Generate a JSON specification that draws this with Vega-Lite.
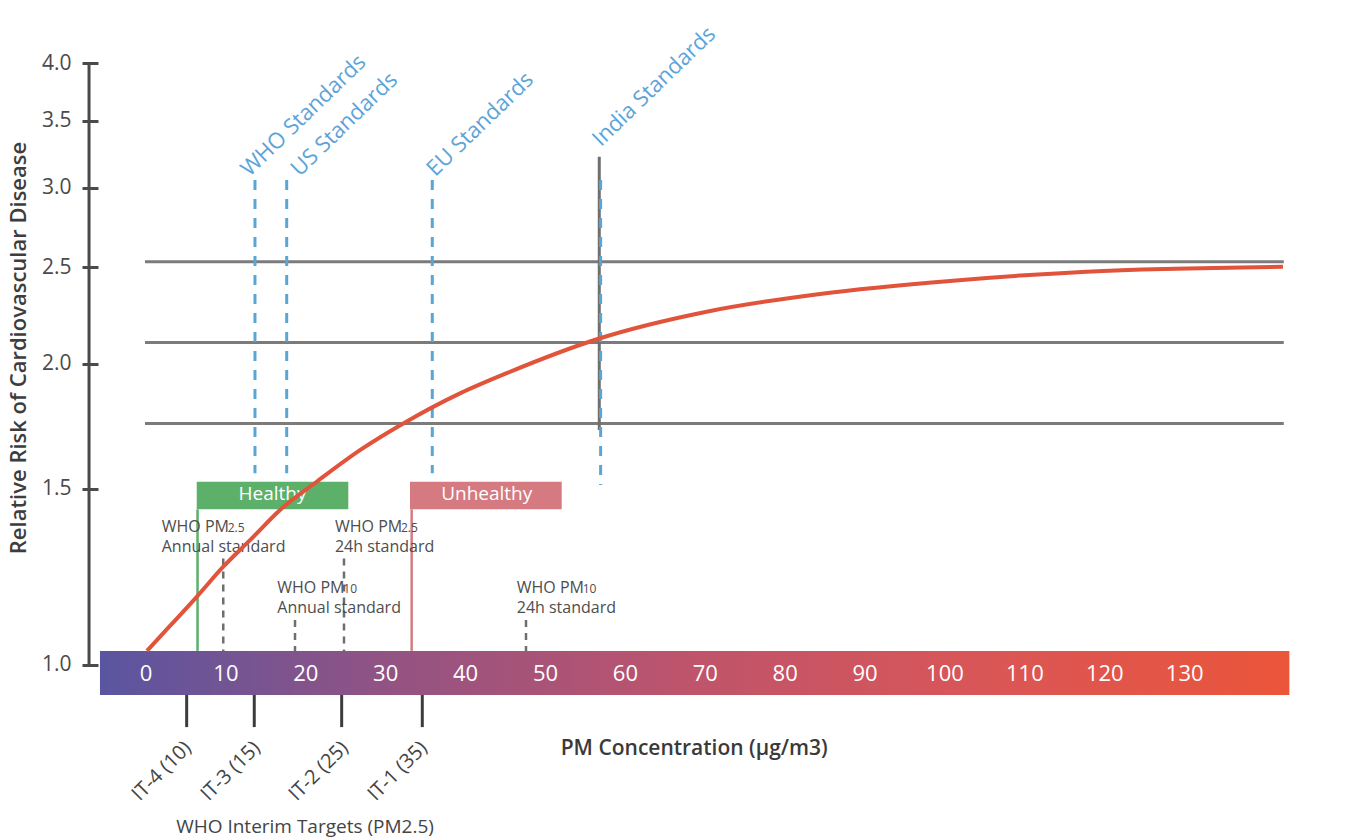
{
  "$schema": "https://vega.github.io/schema/vega-lite/v6.json",
  "width": 1210,
  "height": 632,
  "autosize": {"type": "none"},
  "padding": {"left": 80, "top": 63, "right": 64, "bottom": 144},
  "background": "white",
  "config": {"view": {"stroke": null}, "font": "Open Sans", "text": {"font": "Open Sans"}},
  "datasets": {
    "bar": [{"x": -5.76, "x2": 143.1, "y": 0.9332, "y2": 1.033}],
    "nums": [
      {"label": "0", "x": 0, "y": 0.979}, {"label": "10", "x": 10, "y": 0.979}, {"label": "20", "x": 20, "y": 0.979},
      {"label": "30", "x": 30, "y": 0.979}, {"label": "40", "x": 40, "y": 0.979}, {"label": "50", "x": 50, "y": 0.979},
      {"label": "60", "x": 60, "y": 0.979}, {"label": "70", "x": 70, "y": 0.979}, {"label": "80", "x": 80, "y": 0.979},
      {"label": "90", "x": 90, "y": 0.979}, {"label": "100", "x": 100, "y": 0.979}, {"label": "110", "x": 110, "y": 0.979},
      {"label": "120", "x": 120, "y": 0.979}, {"label": "130", "x": 130, "y": 0.979}
    ],
    "hlines": [
      {"x": -0.125, "x2": 142.4, "y": 2.531},
      {"x": -0.125, "x2": 142.4, "y": 2.102},
      {"x": -0.125, "x2": 142.4, "y": 1.744}
    ],
    "india": [{"x": 56.73, "y": 3.224, "y2": 1.718}],
    "stdlines": [
      {"x": 13.64, "y": 3.055, "y2": 1.555},
      {"x": 17.61, "y": 3.055, "y2": 1.555},
      {"x": 35.83, "y": 3.055, "y2": 1.555},
      {"x": 56.9, "y": 3.055, "y2": 1.514}
    ],
    "stdlabels": [
      {"label": "WHO Standards", "x": 12.95, "y": 3.074},
      {"label": "US Standards", "x": 19.2, "y": 3.074},
      {"label": "EU Standards", "x": 36.2, "y": 3.074},
      {"label": "India Standards", "x": 56.95, "y": 3.294}
    ],
    "zones": [
      {"label": "Healthy", "x": 6.35, "x2": 25.32, "y": 1.525, "y2": 1.431, "tx": 15.83, "ty": 1.483, "lx": 6.45, "ly": 1.431, "ly2": 1.033},
      {"label": "Unhealthy", "x": 33.04, "x2": 52.03, "y": 1.525, "y2": 1.431, "tx": 42.64, "ty": 1.483, "lx": 33.25, "ly": 1.431, "ly2": 1.033}
    ],
    "whodash": [
      {"x": 9.67, "y": 1.278, "y2": 1.033},
      {"x": 18.65, "y": 1.109, "y2": 1.033},
      {"x": 24.78, "y": 1.278, "y2": 1.033},
      {"x": 47.56, "y": 1.109, "y2": 1.033}
    ],
    "annot": [
      {"label": "WHO PM", "sub": "2.5", "x": 1.97, "y": 1.359},
      {"label": "Annual standard", "x": 1.97, "y": 1.298},
      {"label": "WHO PM", "sub": "2.5", "x": 23.65, "y": 1.359},
      {"label": "24h standard", "x": 23.65, "y": 1.298},
      {"label": "WHO PM", "sub": "10", "x": 16.43, "y": 1.179},
      {"label": "Annual standard", "x": 16.43, "y": 1.126},
      {"label": "WHO PM", "sub": "10", "x": 46.4, "y": 1.179},
      {"label": "24h standard", "x": 46.4, "y": 1.126}
    ],
    "curve": [
      {"x": 0.125, "y": 1.033}, {"x": 3.0, "y": 1.094}, {"x": 6.35, "y": 1.17}, {"x": 9.67, "y": 1.254},
      {"x": 13.02, "y": 1.333}, {"x": 16.98, "y": 1.434}, {"x": 21.36, "y": 1.525}, {"x": 26.78, "y": 1.64},
      {"x": 32.2, "y": 1.744}, {"x": 39.3, "y": 1.869}, {"x": 45.14, "y": 1.958}, {"x": 56.82, "y": 2.122},
      {"x": 70.17, "y": 2.256}, {"x": 84.36, "y": 2.35}, {"x": 101.0, "y": 2.423}, {"x": 117.7, "y": 2.474},
      {"x": 142.3, "y": 2.502}
    ],
    "yaxisline": [{"x": -7.13, "y": 4, "y2": 1}],
    "it": [
      {"label": "IT-4 (10)", "x": 5.09, "y": 0.9332, "y2": 0.8667, "tx": 5.26, "ty": 0.8318},
      {"label": "IT-3 (15)", "x": 13.55, "y": 0.9332, "y2": 0.8667, "tx": 13.89, "ty": 0.8318},
      {"label": "IT-2 (25)", "x": 24.49, "y": 0.9332, "y2": 0.8667, "tx": 24.91, "ty": 0.8318},
      {"label": "IT-1 (35)", "x": 34.58, "y": 0.9332, "y2": 0.8667, "tx": 34.79, "ty": 0.8318}
    ],
    "title1": [{"label": "PM Concentration (μg/m3)", "x": 68.61, "y": 0.813}],
    "title2": [{"label": "WHO Interim Targets (PM2.5)", "x": 19.9, "y": 0.6885}]
  },
  "encoding": {
    "x": {"field": "x", "type": "quantitative", "scale": {"domain": [-8.26, 143.18], "nice": false, "zero": false}, "axis": null},
    "y": {
      "field": "y", "type": "quantitative",
      "scale": {"type": "log", "domain": [0.9332, 4], "nice": false},
      "axis": {
        "values": [1, 1.5, 2, 2.5, 3, 3.5, 4], "format": ".1f",
        "offset": -18, "domain": false, "grid": false,
        "tickSize": 16, "tickWidth": 3, "tickColor": "#4a4a4a",
        "labelFont": "Open Sans", "labelFontSize": 21, "labelColor": "#4a4a4a", "labelPadding": 11,
        "title": "Relative Risk of Cardiovascular Disease",
        "titleFont": "Open Sans", "titleFontSize": 22, "titleFontWeight": 600, "titleColor": "#3d3d3d",
        "titlePadding": 11, "titleY": 284.5
      }
    }
  },
  "layer": [
    {"data": {"name": "hlines"}, "mark": {"type": "rule", "color": "#7b7b7b", "strokeWidth": 3}, "encoding": {"x2": {"field": "x2"}}},
    {"data": {"name": "india"}, "mark": {"type": "rule", "color": "#6f6f6f", "strokeWidth": 3}, "encoding": {"y2": {"field": "y2"}}},
    {"data": {"name": "stdlines"}, "mark": {"type": "rule", "color": "#5aa5d8", "strokeWidth": 3, "strokeDash": [10, 9]}, "encoding": {"y2": {"field": "y2"}}},
    {"data": {"name": "zones"}, "mark": {"type": "rect"}, "encoding": {
      "x2": {"field": "x2"}, "y2": {"field": "y2"},
      "color": {"field": "label", "type": "nominal", "scale": {"domain": ["Healthy", "Unhealthy"], "range": ["#5cb06a", "#d47a80"]}, "legend": null}}},
    {"data": {"name": "zones"}, "mark": {"type": "rule", "strokeWidth": 2.5}, "encoding": {
      "x": {"field": "lx", "type": "quantitative"}, "y": {"field": "ly", "type": "quantitative"}, "y2": {"field": "ly2"},
      "color": {"field": "label", "type": "nominal", "scale": {"domain": ["Healthy", "Unhealthy"], "range": ["#5cb06a", "#d47a80"]}, "legend": null}}},
    {"data": {"name": "whodash"}, "mark": {"type": "rule", "color": "#6e6e6e", "strokeWidth": 2.5, "strokeDash": [7, 6]}, "encoding": {"y2": {"field": "y2"}}},
    {"data": {"name": "annot"}, "mark": {"type": "text", "align": "left", "baseline": "alphabetic", "fontSize": 16, "color": "#4d4d4d"}, "encoding": {"text": {"field": "label"}}},
    {"data": {"name": "annot"}, "transform": [{"filter": "datum.sub != null"}], "mark": {"type": "text", "align": "left", "baseline": "alphabetic", "fontSize": 12, "dx": 66, "color": "#4d4d4d"}, "encoding": {"text": {"field": "sub"}}},
    {"data": {"name": "zones"}, "mark": {"type": "text", "align": "center", "baseline": "middle", "fontSize": 19, "color": "white"}, "encoding": {
      "x": {"field": "tx", "type": "quantitative"}, "y": {"field": "ty", "type": "quantitative"}, "text": {"field": "label"}}},
    {"data": {"name": "bar"}, "mark": {"type": "rect", "fill": {"gradient": "linear", "x1": 0, "y1": 0, "x2": 1, "y2": 0,
      "stops": [{"offset": 0, "color": "#5a55a0"}, {"offset": 0.25, "color": "#945382"}, {"offset": 0.5, "color": "#bf546b"}, {"offset": 0.75, "color": "#da5656"}, {"offset": 1, "color": "#eb553a"}]}},
      "encoding": {"x2": {"field": "x2"}, "y2": {"field": "y2"}}},
    {"data": {"name": "nums"}, "mark": {"type": "text", "align": "center", "baseline": "middle", "fontSize": 22, "color": "white"}, "encoding": {"text": {"field": "label"}}},
    {"data": {"name": "curve"}, "mark": {"type": "line", "color": "#e1533a", "strokeWidth": 4, "interpolate": "monotone"}, "encoding": {}},
    {"data": {"name": "yaxisline"}, "mark": {"type": "rule", "color": "#4a4a4a", "strokeWidth": 3}, "encoding": {"y2": {"field": "y2"}}},
    {"data": {"name": "stdlabels"}, "mark": {"type": "text", "align": "left", "baseline": "alphabetic", "angle": 316, "fontSize": 22, "color": "#5ba4d8"}, "encoding": {"text": {"field": "label"}}},
    {"data": {"name": "it"}, "mark": {"type": "rule", "color": "#3c3c3c", "strokeWidth": 3}, "encoding": {"y2": {"field": "y2"}}},
    {"data": {"name": "it"}, "mark": {"type": "text", "align": "right", "baseline": "middle", "angle": 315, "fontSize": 20, "color": "#444444"}, "encoding": {
      "x": {"field": "tx", "type": "quantitative"}, "y": {"field": "ty", "type": "quantitative"}, "text": {"field": "label"}}},
    {"data": {"name": "title1"}, "mark": {"type": "text", "align": "center", "baseline": "alphabetic", "fontSize": 21, "fontWeight": 600, "color": "#3a3a3a"}, "encoding": {"text": {"field": "label"}}},
    {"data": {"name": "title2"}, "mark": {"type": "text", "align": "center", "baseline": "middle", "fontSize": 19, "color": "#444444"}, "encoding": {"text": {"field": "label"}}}
  ]
}
